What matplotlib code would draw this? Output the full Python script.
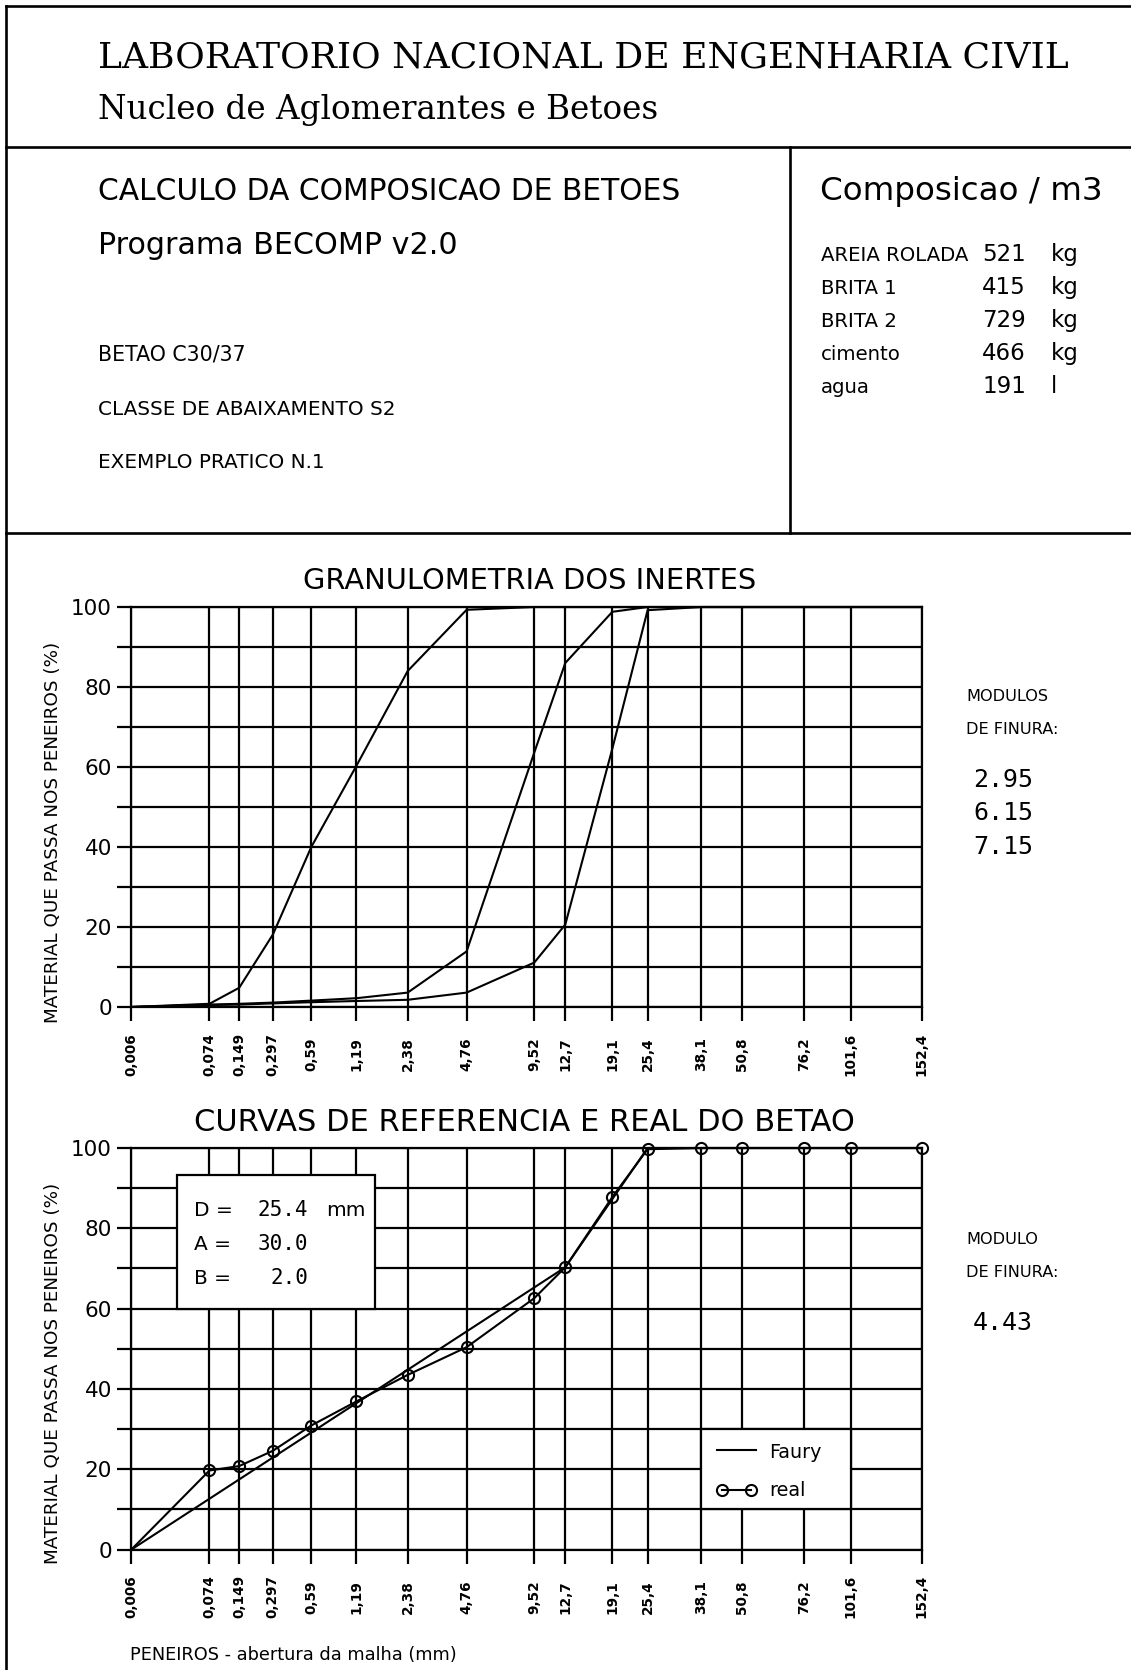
import numpy as np
import matplotlib
matplotlib.use("Agg")
import matplotlib.pyplot as plt
from matplotlib.lines import Line2D
from matplotlib.patches import Rectangle
from matplotlib.ticker import NullLocator

# sieve openings (mm) and their printed labels
sieves = [0.006, 0.074, 0.149, 0.297, 0.59, 1.19, 2.38, 4.76, 9.52, 12.7,
          19.1, 25.4, 38.1, 50.8, 76.2, 101.6, 152.4]
sieve_labels = ["0,006", "0,074", "0,149", "0,297", "0,59", "1,19", "2,38",
                "4,76", "9,52", "12,7", "19,1", "25,4", "38,1", "50,8",
                "76,2", "101,6", "152,4"]

# % passing for each aggregate
areia = [0, 0.8, 4.8, 18.1, 40.0, 60.3, 84.0, 99.3, 100, 100, 100, 100,
         100, 100, 100, 100, 100]
brita1 = [0, 0.6, 0.8, 1.1, 1.6, 2.2, 3.6, 13.9, 63.6, 86.0, 98.8, 100,
          100, 100, 100, 100, 100]
brita2 = [0, 0.5, 0.6, 0.9, 1.2, 1.5, 1.8, 3.6, 11.1, 20.6, 64.6, 99.2,
          100, 100, 100, 100, 100]

# Faury reference curve vertices and real concrete grading
faury_d = [0.006, 12.7, 25.4, 152.4]
faury_p = [0, 70.3, 100, 100]
real = [0, 19.7, 20.8, 24.6, 30.9, 36.9, 43.5, 50.4, 62.6, 70.3, 87.8,
        99.7, 100, 100, 100, 100, 100]

mf_inertes = ["2.95", "6.15", "7.15"]
mf_betao = "4.43"

composicao = ["AREIA ROLADA", "BRITA 1", "BRITA 2", "cimento", "agua"]
quantidades = ["521", "415", "729", "466", "191"]
unidades = ["kg", "kg", "kg", "kg", "l"]

faury_params = [("D =", "25.4", "mm"), ("A =", "30.0", ""), ("B =", "2.0", "")]

W, H = 1131, 1670
SERIF = "DejaVu Serif"
MONO = "DejaVu Sans Mono"
plt.rcParams["font.family"] = "DejaVu Sans"


def fx(x):
    return x / W


def fy(y):
    return 1 - y / H


def fifth(x):
    x = np.asarray(x, float)
    return np.sign(x) * np.abs(x) ** 0.2


def fifth_inv(x):
    x = np.asarray(x, float)
    return np.sign(x) * np.abs(x) ** 5


fig = plt.figure(figsize=(W / 100, H / 100), dpi=100)

# drawing frame
LW_FRAME = 1.9
for (x0, y0, x1, y1) in [(6, 6, 6, H), (6, 6, W, 6), (6, 146.5, W, 146.5),
                         (6, 533, W, 533), (790, 146.5, 790, 533)]:
    fig.add_artist(Line2D([fx(x0), fx(x1)], [fy(y0), fy(y1)], color="black",
                          lw=LW_FRAME, transform=fig.transFigure))

# header
fig.text(fx(98), fy(67), "LABORATORIO NACIONAL DE ENGENHARIA CIVIL",
         family=SERIF, fontsize=26, va="baseline")
fig.text(fx(98), fy(119), "Nucleo de Aglomerantes e Betoes",
         family=SERIF, fontsize=23.5, va="baseline")
fig.text(fx(98), fy(200), "CALCULO DA COMPOSICAO DE BETOES", fontsize=21.4,
         va="baseline")
fig.text(fx(98), fy(254), "Programa BECOMP v2.0", fontsize=21.7, va="baseline")
fig.text(fx(98), fy(360), "BETAO C30/37", fontsize=14.8, va="baseline")
fig.text(fx(98), fy(415), "CLASSE DE ABAIXAMENTO S2", fontsize=14.4,
         va="baseline")
fig.text(fx(98), fy(468), "EXEMPLO PRATICO N.1", fontsize=14.4, va="baseline")

fig.text(fx(820), fy(200), "Composicao / m3", fontsize=23.4, va="baseline")
for i, (nome, q, u) in enumerate(zip(composicao, quantidades, unidades)):
    yb = 261 + 33 * i
    fig.text(fx(821), fy(yb), nome, fontsize=14.2, va="baseline")
    fig.text(fx(982), fy(yb), q, fontsize=16.5, va="baseline")
    fig.text(fx(1051), fy(yb), u, fontsize=16.5, va="baseline")


def setup(ax):
    ax.set_xscale("function", functions=(fifth, fifth_inv))
    ax.set_xlim(sieves[0], sieves[-1])
    ax.set_ylim(0, 100)
    ax.set_xticks(sieves)
    ax.set_xticklabels(sieve_labels, rotation=90, fontsize=9.8,
                       fontweight="bold", va="center")
    ax.xaxis.set_minor_locator(NullLocator())
    yt = np.arange(0, 101, 10)
    ax.set_yticks(yt)
    ax.set_yticklabels([str(v) if v % 20 == 0 else "" for v in yt],
                       fontsize=15.5)
    ax.tick_params(direction="out", length=10, width=1.6, color="black")
    ax.tick_params(axis="x", pad=24)
    ax.tick_params(axis="y", pad=4)
    ax.grid(True, color="black", lw=1.6)
    ax.set_axisbelow(True)
    for s in ax.spines.values():
        s.set_linewidth(1.6)


AX_L, AX_W = 131.3 / W, 790.4 / W

# grading of the aggregates
ax1 = fig.add_axes([AX_L, fy(1007), AX_W, 400 / H])
setup(ax1)
for serie in (areia, brita1, brita2):
    ax1.plot(sieves, serie, color="black", lw=1.5, zorder=4, clip_on=False)

fig.text(fx(530), fy(589), "GRANULOMETRIA DOS INERTES", fontsize=20.8,
         ha="center", va="baseline")
fig.text(fx(53), fy(832), "MATERIAL QUE PASSA NOS PENEIROS (%)", fontsize=13.2,
         rotation=90, ha="center", va="center")
fig.text(fx(966), fy(701), "MODULOS", fontsize=11.6, va="baseline")
fig.text(fx(966), fy(734), "DE FINURA:", fontsize=11.6, va="baseline")
for i, mf in enumerate(mf_inertes):
    fig.text(fx(973), fy(787 + 33.3 * i), mf, family=MONO, fontsize=18,
             va="baseline")

# reference (Faury) and real grading of the concrete
ax2 = fig.add_axes([AX_L, fy(1549.6), AX_W, 401.6 / H])
setup(ax2)
ax2.plot(faury_d, faury_p, color="black", lw=1.5, zorder=4, clip_on=False)
ax2.plot(sieves, real, color="black", lw=1.5, marker="o", ms=8,
         mfc="none", mew=1.5, markevery=list(range(1, len(sieves))),
         zorder=4, clip_on=False)

# parameter box
ax2.add_patch(Rectangle((0.0578, 0.60), 0.2505, 0.333, transform=ax2.transAxes,
                        facecolor="white", edgecolor="black", lw=1.6, zorder=3))
for i, (lab, val, un) in enumerate(faury_params):
    yb = 1216 + 33.8 * i
    fig.text(fx(194), fy(yb), lab, fontsize=14.5, va="baseline")
    fig.text(fx(308), fy(yb), val, family=MONO, fontsize=15, ha="right",
             va="baseline")
    if un:
        fig.text(fx(326), fy(yb), un, fontsize=14.5, va="baseline")

# legend area
ax2.add_patch(Rectangle((38.1, 10), 101.6 - 38.1, 20, facecolor="white",
                        edgecolor="black", lw=1.6, zorder=3))
ax2.add_artist(Line2D([(717 - 131.3) / 790.4, (756 - 131.3) / 790.4],
                      [(1549.6 - 1450) / 401.6] * 2, color="black", lw=1.5,
                      transform=ax2.transAxes, zorder=5))
ax2.add_artist(Line2D([(722 - 131.3) / 790.4, (751 - 131.3) / 790.4],
                      [(1549.6 - 1490) / 401.6] * 2, color="black", lw=1.5,
                      marker="o", ms=8, mfc="none", mew=1.5,
                      transform=ax2.transAxes, zorder=5))
fig.text(fx(769), fy(1458), "Faury", fontsize=13.8, va="baseline")
fig.text(fx(769), fy(1496), "real", fontsize=13.8, va="baseline")

fig.text(fx(524), fy(1131), "CURVAS DE REFERENCIA E REAL DO BETAO",
         fontsize=22, ha="center", va="baseline")
fig.text(fx(53), fy(1373), "MATERIAL QUE PASSA NOS PENEIROS (%)",
         fontsize=13.2, rotation=90, ha="center", va="center")
fig.text(fx(966), fy(1243.6), "MODULO", fontsize=11.6, va="baseline")
fig.text(fx(966), fy(1277), "DE FINURA:", fontsize=11.6, va="baseline")
fig.text(fx(973), fy(1329.7), mf_betao, family=MONO, fontsize=18,
         va="baseline")
fig.text(fx(130), fy(1660), "PENEIROS - abertura da malha (mm)", fontsize=12.8,
         va="baseline")

fig.savefig("out.png", dpi=100)
